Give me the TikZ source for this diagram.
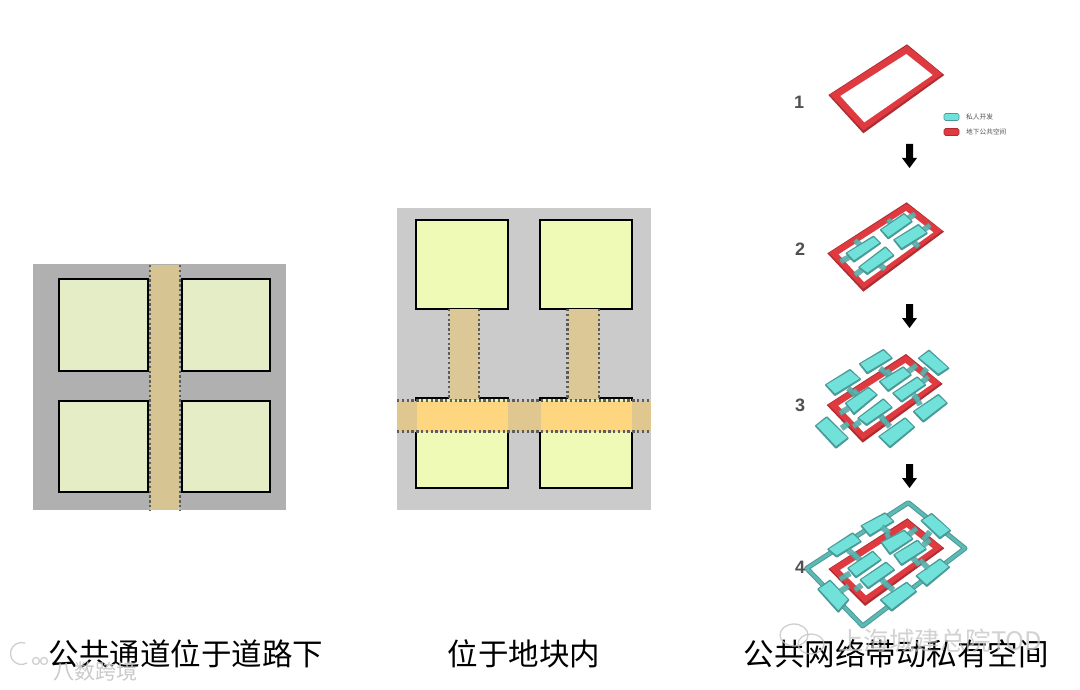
\documentclass[tikz,border=0pt]{standalone}
\usepackage{fontspec}
\setmainfont{Liberation Sans}
\newfontfamily\cjk{Noto Sans CJK SC}
\tikzset{
  lot/.style={draw=black,line width=2.2pt,miter limit=2},
  lotA/.style={lot,fill=lotAfill},
  lotB/.style={lot,fill=lotBfill},
  dots/.style={draw=dotgray,line width=2.6pt,dash pattern=on 2.4pt off 2.4pt},
  caption/.style={font=\cjk\fontsize{30.5}{32}\selectfont,text=black,inner sep=0pt,anchor=center},
  stepnum/.style={font=\bfseries\fontsize{18}{20}\selectfont,text=numgray,inner sep=0pt},
  legendtext/.style={font=\cjk\fontsize{6.7}{8}\selectfont,text=numgray,inner sep=0pt,anchor=west},
  pill/.style={rounded corners=1.5pt,line width=.6pt},
  flow/.style={fill=black,draw=none},
  mark1/.style={font=\cjk\fontsize{25.5}{27}\selectfont,text=markgray,inner sep=0pt,opacity=.75},
  mark2/.style={font=\cjk\fontsize{21}{23}\selectfont,text=markgray,inner sep=0pt,opacity=.9},
  zoomed/.style={x=0.33333pt,y=-0.33333pt},
}
\definecolor{lotAfill}{HTML}{E4EDC6}
\definecolor{lotBfill}{HTML}{EEFAB6}
\definecolor{dotgray}{HTML}{5C5C5C}
\definecolor{numgray}{HTML}{505050}
\definecolor{markgray}{HTML}{C4C4C4}
\definecolor{graydark}{HTML}{B0B0B0}
\definecolor{graylight}{HTML}{CBCBCB}
\definecolor{road}{HTML}{D6C592}
\definecolor{linkfill}{HTML}{DCC897}
\definecolor{bandfill}{HTML}{DFC78F}
\definecolor{overlap}{HTML}{FDD67F}
\definecolor{tealface}{HTML}{70E2DA}
\definecolor{tealside}{HTML}{5DB9B4}
\definecolor{tealedge}{HTML}{4A9A98}
\definecolor{redface}{HTML}{DE3A40}
\definecolor{redside}{HTML}{B02C32}
% private block: left, top, right, bottom corners
\newcommand\blk[8]{%
  \fill[tealside,draw=tealedge,line width=2pt,line join=round] (#1,#2)--(#3,#4)--(#5,#6)--(#7,#8)--cycle;
  \fill[tealface] (#1+2,#2-1)--(#3,#4+2)--(#5-2,#6-2)--(#7,#8-5)--cycle;}
% connector stub
\newcommand\stb[4]{%
  \draw[tealedge,line width=6pt,opacity=.75] (#1,#2)--(#3,#4);
  \draw[tealside,line width=4pt,opacity=.75] (#1,#2)--(#3,#4);}
\newcommand\flowarrow[1]{%
  \fill[flow] (906,#1)--(913,#1)--(913,#1+14)--(917,#1+14)--(909.5,#1+24)--(902,#1+14)--(906,#1+14)--cycle;}
\begin{document}
\begin{tikzpicture}[x=1pt,y=-1pt]
\useasboundingbox (0,0) rectangle (1080,690);
\fill[white] (0,0) rectangle (1080,690);

% ---- left panel
\fill[graydark] (33,264) rectangle (286,510);
\draw[lotA] (59,279) rectangle (148,371);
\draw[lotA] (182,279) rectangle (270,371);
\draw[lotA] (59,401) rectangle (148,492);
\draw[lotA] (182,401) rectangle (270,492);
\fill[road] (150,265) rectangle (180,510);
\draw[dots] (150,265)--(150,510);
\draw[dots] (180,265)--(180,510);

% ---- middle panel
\fill[graylight] (397,208) rectangle (651,510);
\draw[lotB] (416,220) rectangle (508,309);
\draw[lotB] (540,220) rectangle (632,309);
\draw[lotB] (416,398) rectangle (508,488);
\draw[lotB] (540,398) rectangle (632,488);
\fill[linkfill] (449,309) rectangle (479,400);
\fill[linkfill] (568,309) rectangle (599,400);
\fill[bandfill] (397,400.5) rectangle (651,431.5);
\fill[overlap] (417,400.5) rectangle (507.5,431.5);
\fill[overlap] (541,400.5) rectangle (631.5,431.5);
\draw[dots] (449,309)--(449,400);
\draw[dots] (479,309)--(479,400);
\draw[dots] (567.5,309)--(567.5,400);
\draw[dots] (599,309)--(599,400);
\draw[dots] (397,400.5)--(651,400.5);
\draw[dots] (397,431.5)--(651,431.5);

% ---- step 1
\begin{scope}[shift={(780,30)},zoomed]
  \fill[redside,line join=round] (381,43)--(493,135)--(250,310)--(145,195)--cycle;
  \fill[redface,even odd rule] (381,47)--(487,132)--(250,301)--(150,194)--cycle
     (379,72)--(458,135)--(253,277)--(181,198)--cycle;
  \fill[white] (379,72)--(458,135)--(253,277)--(181,198)--cycle;
\end{scope}

% ---- step 2
\begin{scope}[shift={(780,190)},zoomed]
  \fill[redside,line join=round] (380,37)--(492,125)--(250,305)--(142,190)--cycle;
  \fill[redface,even odd rule] (380,41)--(486,122)--(250,296)--(147,189)--cycle
     (378,63)--(460,127)--(252,276)--(176,193)--cycle;
  \fill[white] (378,63)--(460,127)--(252,276)--(176,193)--cycle;
  \stb{210}{200}{182}{215}\stb{240}{165}{225}{150}
  \stb{245}{240}{225}{255}\stb{300}{225}{315}{238}
  \stb{335}{105}{325}{88}\stb{385}{85}{405}{72}
  \stb{430}{120}{450}{105}\stb{400}{155}{415}{170}
  \blk{200}{190}{280}{140}{300}{160}{222}{215}
  \blk{238}{232}{316}{172}{340}{197}{262}{252}
  \blk{303}{120}{372}{72}{395}{95}{325}{145}
  \blk{343}{150}{415}{105}{440}{130}{365}{178}
\end{scope}

% ---- step 3
\begin{scope}[shift={(780,340)},zoomed]
  \fill[redside,line join=round] (378,42)--(488,132)--(248,308)--(140,195)--cycle;
  \fill[redface,even odd rule] (378,46)--(482,129)--(248,299)--(145,194)--cycle
     (376,69)--(456,132)--(250,276)--(175,197)--cycle;
  \fill[white] (376,69)--(456,132)--(250,276)--(175,197)--cycle;
  \blk{138}{135}{210}{90}{240}{118}{165}{165}
  \blk{240}{72}{310}{30}{335}{55}{262}{100}
  \blk{417}{55}{447}{32}{505}{85}{475}{105}
  \blk{402}{215}{475}{165}{500}{190}{430}{245}
  \blk{298}{290}{375}{235}{402}{262}{330}{322}
  \blk{108}{258}{140}{232}{203}{295}{168}{323}
  \stb{205}{145}{230}{170}\stb{300}{85}{325}{105}
  \stb{440}{85}{425}{105}\stb{420}{195}{405}{165}
  \stb{330}{260}{305}{235}\stb{185}{265}{205}{250}
  \stb{205}{205}{180}{220}\stb{235}{165}{220}{150}
  \stb{240}{245}{220}{260}\stb{300}{225}{315}{245}
  \stb{335}{110}{320}{90}\stb{385}{95}{410}{75}
  \stb{428}{125}{445}{110}\stb{400}{165}{415}{180}
  \blk{198}{190}{265}{143}{290}{165}{222}{222}
  \blk{235}{235}{310}{178}{335}{203}{260}{255}
  \blk{300}{125}{370}{82}{392}{105}{325}{153}
  \blk{340}{160}{412}{112}{435}{135}{365}{185}
\end{scope}

% ---- step 4
\begin{scope}[shift={(780,490)},zoomed]
  \draw[tealedge,line width=5pt,line join=round] (80,235)--(385,38)--(555,175)--(248,408)--cycle;
  \draw[tealside,line width=3pt,line join=round] (80,235)--(385,38)--(555,175)--(248,408)--cycle;
  \fill[redside,line join=round] (382,85)--(493,175)--(255,348)--(145,237)--cycle;
  \fill[redface,even odd rule] (382,89)--(487,172)--(255,339)--(150,236)--cycle
     (380,112)--(458,175)--(258,316)--(180,240)--cycle;
  \fill[white] (380,112)--(458,175)--(258,316)--(180,240)--cycle;
  \blk{145}{178}{218}{130}{242}{155}{170}{200}
  \blk{245}{108}{315}{70}{340}{95}{270}{138}
  \blk{425}{92}{455}{72}{510}{122}{480}{145}
  \blk{410}{258}{480}{208}{507}{232}{440}{288}
  \blk{303}{330}{380}{278}{408}{305}{335}{362}
  \blk{115}{298}{150}{272}{205}{330}{175}{365}
  \stb{205}{180}{232}{205}\stb{305}{110}{328}{130}
  \stb{450}{125}{430}{150}\stb{445}{235}{420}{210}
  \stb{340}{300}{315}{280}\stb{180}{305}{205}{288}
  \stb{210}{250}{180}{268}\stb{240}{210}{220}{190}
  \stb{245}{285}{225}{300}\stb{300}{262}{320}{285}
  \stb{335}{165}{320}{130}\stb{385}{135}{410}{115}
  \stb{430}{165}{450}{150}\stb{400}{205}{418}{225}
  \blk{205}{235}{278}{185}{302}{210}{228}{262}
  \blk{242}{270}{318}{218}{342}{240}{265}{295}
  \blk{305}{158}{372}{122}{397}{147}{330}{192}
  \blk{343}{195}{412}{152}{437}{178}{365}{225}
\end{scope}

% ---- step numbers
\node[stepnum] (n1) at (799,102) {1};
\node[stepnum] (n2) at (800,249) {2};
\node[stepnum] (n3) at (800,405) {3};
\node[stepnum] (n4) at (800,567) {4};

% ---- flow arrows
\flowarrow{144}
\flowarrow{304}
\flowarrow{464}

% ---- legend
\fill[tealface,draw=tealedge,pill] (944,113.5) rectangle (959,120.5);
\fill[redface,draw=redside,pill] (944,128.5) rectangle (959,135.5);
\node[legendtext] (lg1) at (966,117) {私人开发};
\node[legendtext] (lg2) at (966,132) {地下公共空间};

% ---- captions
\node[caption] (c1) at (186,654) {公共通道位于道路下};
\node[caption] (c2) at (524,654) {位于地块内};
\node[caption] (c3) at (896,654) {公共网络带动私有空间};

% ---- watermarks
\begin{scope}[draw=markgray,line width=1.3pt,opacity=.8]
  \draw (794,635) ellipse [x radius=14,y radius=11];
  \draw (811,644) ellipse [x radius=13,y radius=10];
  \draw (27,663) arc [start angle=60,end angle=290,radius=11];
  \draw (36,661) circle [radius=3.5];
  \draw (44,661) circle [radius=3.5];
\end{scope}
\node[mark1,anchor=west] (w1) at (838,641) {上海城建总院TOD};
\node[mark2,anchor=west] (w2) at (53,671) {八数跨境};
\end{tikzpicture}
\end{document}
